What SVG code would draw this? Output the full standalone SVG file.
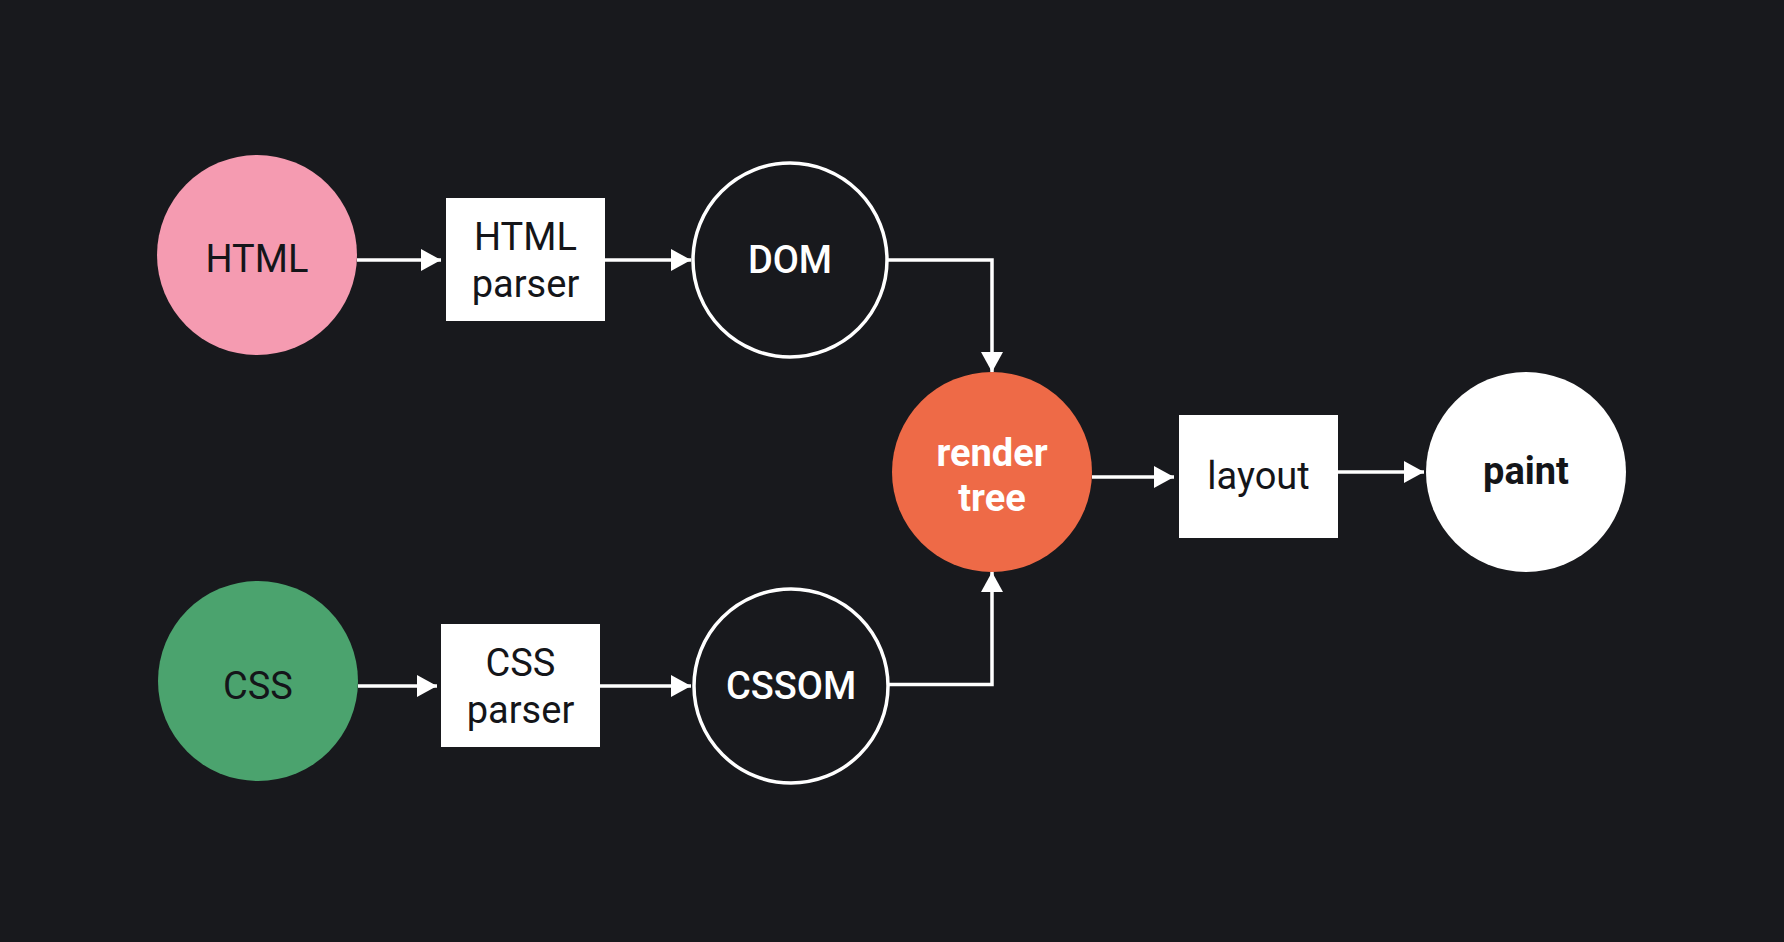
<svg xmlns="http://www.w3.org/2000/svg" width="1784" height="942" viewBox="0 0 1784 942">
<style>
text{font-family:Roboto,"Liberation Sans",sans-serif;font-size:38px;text-anchor:middle}
.dk{fill:#141519}
.wt{fill:#ffffff}
.md{font-weight:500}
.bd{font-weight:700}
.box{fill:#ffffff}
.ring{fill:none;stroke:#ffffff;stroke-width:3.5}
.edge{fill:none;stroke:#ffffff;stroke-width:3.5;marker-end:url(#ah)}
</style>
<defs>
<marker id="ah" markerUnits="userSpaceOnUse" markerWidth="20" markerHeight="22" refX="20" refY="11" orient="auto" viewBox="0 0 20 22">
<path d="M0,0 L20,11 L0,22 z" fill="#ffffff"/>
</marker>
</defs>
<rect width="1784" height="942" fill="#18191d"/>
<g id="connectors">
<path class="edge" d="M357,260 H441"/>
<path class="edge" d="M605,260 H691"/>
<path class="edge" d="M888,260 H992 V372"/>
<path class="edge" d="M358,686 H437"/>
<path class="edge" d="M600,686 H691"/>
<path class="edge" d="M889,684.5 H992 V572"/>
<path class="edge" d="M1092,477 H1174"/>
<path class="edge" d="M1338,472 H1424"/>
</g>
<g id="html">
<circle cx="257" cy="255" r="100" fill="#f59bb1"/>
<text class="dk" x="257" y="272">HTML</text>
</g>
<g id="html-parser">
<rect class="box" x="446" y="198" width="159" height="123"/>
<text class="dk" x="525.5" y="250">HTML</text>
<text class="dk" x="525.5" y="297">parser</text>
</g>
<g id="dom">
<circle class="ring" cx="790" cy="260" r="97"/>
<text class="wt md" x="790" y="273">DOM</text>
</g>
<g id="css">
<circle cx="258" cy="681" r="100" fill="#4ba36e"/>
<text class="dk" x="258" y="699">CSS</text>
</g>
<g id="css-parser">
<rect class="box" x="441" y="624" width="159" height="123"/>
<text class="dk" x="520.5" y="676">CSS</text>
<text class="dk" x="520.5" y="723">parser</text>
</g>
<g id="cssom">
<circle class="ring" cx="791" cy="686" r="97"/>
<text class="wt md" x="791" y="699">CSSOM</text>
</g>
<g id="render-tree">
<circle cx="992" cy="472" r="100" fill="#ee6a47"/>
<text class="wt bd" x="992" y="466">render</text>
<text class="wt bd" x="992" y="511">tree</text>
</g>
<g id="layout">
<rect class="box" x="1179" y="415" width="159" height="123"/>
<text class="dk" x="1258.5" y="489">layout</text>
</g>
<g id="paint">
<circle cx="1526" cy="472" r="100" fill="#ffffff"/>
<text class="dk bd" x="1526" y="484">paint</text>
</g>
</svg>
